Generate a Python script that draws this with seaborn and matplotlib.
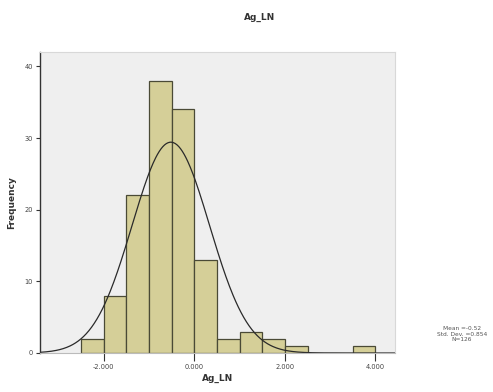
import numpy as np
import pandas as pd
import matplotlib
matplotlib.use("Agg")
import matplotlib.pyplot as plt
import seaborn as sns

# Histogram of Ag_LN: bin edges (width 0.5) and frequencies
bin_left = [-2.5, -2.0, -1.5, -1.0, -0.5, 0.0, 0.5, 1.0, 1.5, 2.0, 2.5, 3.0, 3.5]
counts = [2, 8, 22, 38, 34, 13, 2, 3, 2, 1, 0, 0, 1]
bin_width = 0.5

# Summary statistics shown beside the chart
mean_val = -0.52
std_val = 0.854
n_val = 126

x_ticks = [-2.0, 0.0, 2.0, 4.0]
x_tick_labels = ["-2.000", "0.000", "2.000", "4.000"]
y_ticks = [0, 10, 20, 30, 40]

sns.set_theme(style="white")
plt.rcParams["font.family"] = ["DejaVu Sans"]

fig = plt.figure(figsize=(4.93, 3.92), dpi=100)
ax = fig.add_axes([0.0811, 0.0995, 0.7200, 0.7675])
ax.set_facecolor("#efefef")

df = pd.DataFrame({"mid": np.array(bin_left) + bin_width / 2, "count": counts})
sns.histplot(data=df, x="mid", weights="count", binwidth=bin_width,
             binrange=(bin_left[0], bin_left[-1] + bin_width), ax=ax,
             color="#d5cf98", edgecolor="#4a4a36", linewidth=0.9, alpha=1.0)

# Fitted normal curve scaled to counts
xs = np.linspace(-3.41, 4.43, 400)
ys = n_val * bin_width * np.exp(-0.5 * ((xs - mean_val) / std_val) ** 2) / (std_val * np.sqrt(2 * np.pi))
sns.lineplot(x=xs, y=ys, ax=ax, color="#2a2a2a", linewidth=0.9)

ax.set_xlim(-3.41, 4.43)
ax.set_ylim(0, 42)
ax.set_xticks(x_ticks)
ax.set_xticklabels(x_tick_labels)
ax.set_yticks(y_ticks)
ax.tick_params(axis="both", labelsize=4.8, colors="#444444", width=0.8,
               direction="out", pad=2, bottom=True, left=True)
ax.tick_params(axis="x", length=6, color="#333333")
ax.tick_params(axis="y", length=3, color="#333333")

for side in ["top", "right"]:
    ax.spines[side].set_color("#d8d8d8")
    ax.spines[side].set_linewidth(0.8)
ax.spines["left"].set_color("#333333")
ax.spines["left"].set_linewidth(1.0)
ax.spines["bottom"].set_color("#bbbbbb")
ax.spines["bottom"].set_linewidth(0.8)

ax.set_xlabel("Ag_LN", fontsize=6.5, fontweight="bold", color="#333333", labelpad=3)
ax.set_ylabel("Frequency", fontsize=6.5, fontweight="bold", color="#333333", labelpad=6)

fig.text(260 / 493, 1 - 17 / 392, "Ag_LN", ha="center", va="center",
         fontsize=6.5, fontweight="bold", color="#333333")

fig.text(462 / 493, 1 - 334 / 392,
         f"Mean =-0.52\nStd. Dev. ={std_val:.3f}\nN={n_val}",
         ha="center", va="center", fontsize=4.2, color="#555555", linespacing=1.1)

fig.savefig("out.png", dpi=100)
